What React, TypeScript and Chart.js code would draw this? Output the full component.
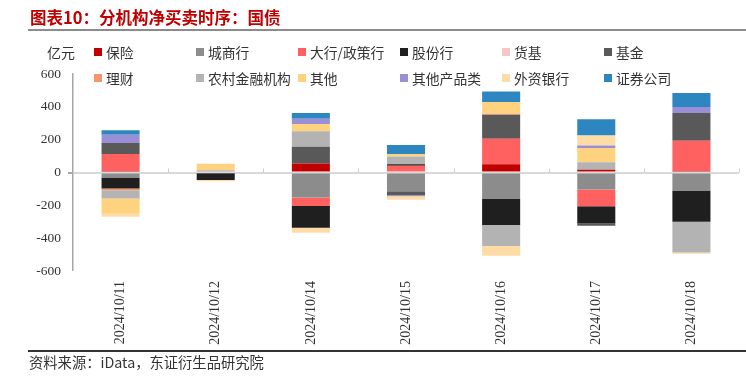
import React, { useEffect, useRef } from "react";
import { Chart, registerables } from "chart.js";

Chart.register(...registerables);

const categories = ["2024/10/11", "2024/10/12", "2024/10/14", "2024/10/15", "2024/10/16", "2024/10/17", "2024/10/18"];

const seriesNames = ["保险", "城商行", "大行/政策行", "股份行", "货基", "基金", "理财", "农村金融机构", "其他", "其他产品类", "外资银行", "证券公司"];
const seriesColors = ["#c00000", "#8c8c8c", "#ff6161", "#1f1f1f", "#f9c6c6", "#595959", "#f7956a", "#b3b3b3", "#ffd27f", "#9a8fd6", "#ffdba6", "#2e86c1"];

const baoxian = [10, 0, 55, 0, 51, 16, 10];
const chengshang = [-31, -5, -153, -114, -161, -104, -110];
const dahang = [102, 0, -51, 41, 155, -102, 183];
const gufen = [-67, -40, -132, 10, -159, -104, -190];
const huoji = [0, 5, 0, 0, 0, 0, 0];
const jijin = [67, 0, 102, -24, 146, -14, 169];
const licai = [-10, 0, 0, 0, 6, 0, 0];
const nongcun = [-51, 8, 94, 47, -128, 47, -188];
const qita = [-92, 40, 45, 14, 71, 86, 0];
const qitachanpin = [51, 0, 31, -6, 0, 16, 37];
const waizi = [-18, -8, -31, -22, -59, 61, -7];
const zhengquan = [27, 0, 35, 55, 65, 98, 85];

const seriesValues = [baoxian, chengshang, dahang, gufen, huoji, jijin, licai, nongcun, qita, qitachanpin, waizi, zhengquan];

const yTicks = [600, 400, 200, 0, -200, -400, -600];

const legendCols = [94, 196, 298, 400, 502, 604];
const legendRows = [52, 78];

const W = 746;
const H = 379;

const catTickPlugin = {
  id: "catTicks",
  afterDatasetsDraw(chart: any) {
    const x = chart.scales.x;
    const y = chart.scales.y;
    const ctx = chart.ctx;
    const y0 = y.getPixelForValue(0);
    ctx.save();
    ctx.strokeStyle = "#cfcfcf";
    ctx.lineWidth = 1;
    const n = categories.length;
    for (let i = 1; i <= n; i++) {
      const a = x.getPixelForValue(i - 1);
      const b = i < n ? x.getPixelForValue(i) : a + (a - x.getPixelForValue(i - 2));
      const px = Math.round((a + b) / 2) + 0.5;
      ctx.beginPath();
      ctx.moveTo(px, y0 - 4);
      ctx.lineTo(px, y0);
      ctx.stroke();
    }
    ctx.restore();
  },
};

export default function App() {
  const ref = useRef<HTMLCanvasElement | null>(null);

  useEffect(() => {
    if (!ref.current) return;
    const chart = new Chart(ref.current, {
      type: "bar",
      data: {
        labels: categories,
        datasets: seriesNames.map((name, i) => ({
          label: name,
          data: seriesValues[i],
          backgroundColor: seriesColors[i],
          borderWidth: 0,
          barPercentage: 0.8,
          categoryPercentage: 0.5,
          stack: "s",
        })),
      },
      plugins: [catTickPlugin],
      options: {
        responsive: false,
        animation: false,
        maintainAspectRatio: false,
        layout: { padding: { top: 74, left: 0, right: 7, bottom: 0 } },
        plugins: {
          legend: { display: false },
          title: { display: false },
          tooltip: { enabled: false },
        },
        scales: {
          x: {
            stacked: true,
            grid: { display: false, drawTicks: false },
            border: { display: false },
            ticks: {
              minRotation: 90,
              maxRotation: 90,
              padding: 10,
              color: "#333",
              font: { family: "'Liberation Serif', 'DejaVu Serif', serif", size: 14 },
            },
            afterFit(scale: any) {
              scale.height = 108;
            },
          },
          y: {
            stacked: true,
            min: -600,
            max: 600,
            afterBuildTicks(scale: any) {
              scale.ticks = yTicks.map((v) => ({ value: v }));
            },
            grid: {
              color: (c: any) => (c.tick && c.tick.value === 0 ? "#d9d9d9" : "rgba(0,0,0,0)"),
              lineWidth: (c: any) => (c.tick && c.tick.value === 0 ? 2 : 0),
              tickColor: "#a6a6a6",
              tickLength: 5,
              drawTicks: true,
            },
            border: { display: true, color: "#a6a6a6", width: 1.5 },
            ticks: {
              padding: 7,
              color: "#333",
              font: { family: "'Liberation Serif', 'DejaVu Serif', serif", size: 13.5 },
              callback: (v: any) => String(v),
            },
            afterFit(scale: any) {
              scale.width = 73;
            },
          },
        },
      },
    });
    return () => chart.destroy();
  }, []);

  const cjk = "'Noto Sans CJK SC', 'Noto Sans', sans-serif";

  return (
    <div style={{ position: "absolute", left: 0, top: 0, width: W, height: H, background: "#fff", overflow: "hidden" }}>
      <canvas ref={ref} width={W} height={H} style={{ position: "absolute", left: 0, top: 0, width: W, height: H }} />
      <div style={{ position: "absolute", left: 30, top: 5, fontFamily: cjk, fontSize: 16.5, fontWeight: 700, color: "#c00000", lineHeight: "24px", whiteSpace: "nowrap" }}>
        图表10：分机构净买卖时序：国债
      </div>
      <div style={{ position: "absolute", left: 28, top: 29, width: W - 28, height: 2, background: "#8c8c8c" }} />
      <div style={{ position: "absolute", left: 47, top: 43, fontFamily: cjk, fontSize: 14, color: "#333", lineHeight: "18px", whiteSpace: "nowrap" }}>
        亿元
      </div>
      {seriesNames.map((name, i) => {
        const col = i % 6;
        const row = Math.floor(i / 6);
        return (
          <div key={name} style={{ position: "absolute", left: legendCols[col], top: legendRows[row] - 9, height: 18, display: "flex", alignItems: "center", whiteSpace: "nowrap" }}>
            <span style={{ display: "inline-block", width: 8, height: 8, background: seriesColors[i], marginRight: 4 }} />
            <span style={{ fontFamily: cjk, fontSize: 13.8, color: "#333", lineHeight: "18px" }}>{name}</span>
          </div>
        );
      })}
      <div style={{ position: "absolute", left: 28, top: 350, width: W - 28, height: 1.5, background: "#333" }} />
      <div style={{ position: "absolute", left: 29, top: 352, fontFamily: cjk, fontSize: 14.3, color: "#333", lineHeight: "20px", whiteSpace: "nowrap" }}>
        资料来源：iData，东证衍生品研究院
      </div>
    </div>
  );
}
